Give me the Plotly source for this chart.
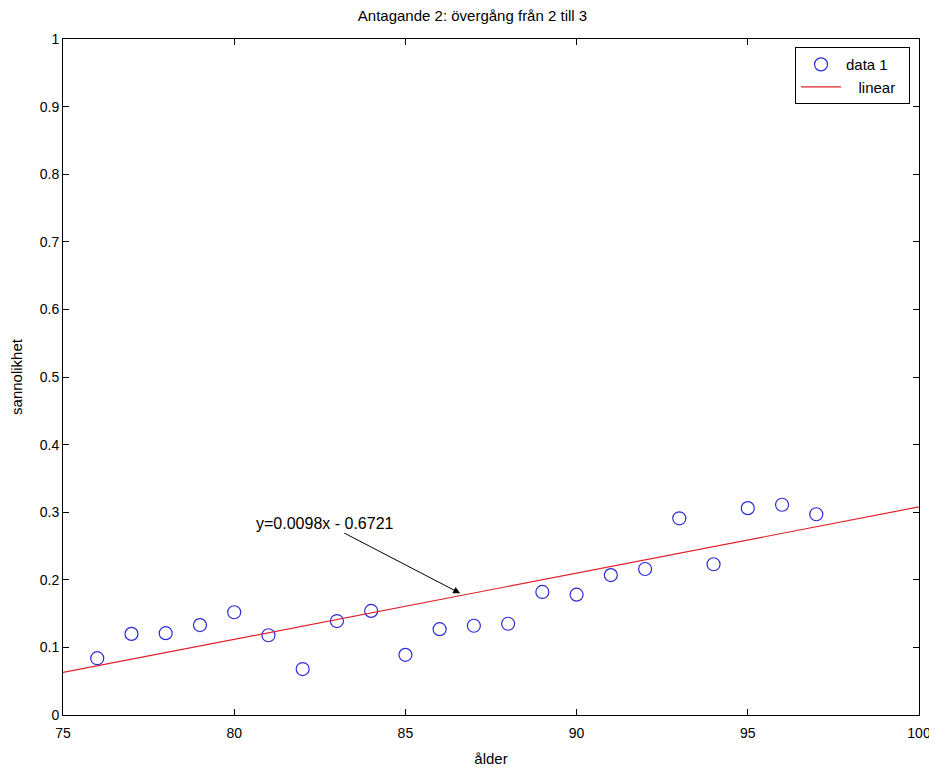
import plotly.graph_objects as go

ages = [76, 77, 78, 79, 80, 81, 82, 83, 84, 85, 86, 87, 88, 89, 90, 91, 92, 93, 94, 95, 96, 97]
prob = [0.084, 0.120, 0.121, 0.133, 0.152, 0.118, 0.068, 0.139, 0.154, 0.089, 0.127, 0.132,
        0.135, 0.182, 0.178, 0.207, 0.216, 0.291, 0.223, 0.306, 0.311, 0.297]
slope = 0.0098
intercept = -0.6721
fit_x = [75, 100]
fit_y = [slope * v + intercept for v in fit_x]

x_ticks = [75, 80, 85, 90, 95, 100]
y_ticks = [0, 0.1, 0.2, 0.3, 0.4, 0.5, 0.6, 0.7, 0.8, 0.9, 1]

font = "Liberation Sans, Arial, sans-serif"

fig = go.Figure()
fig.add_trace(go.Scatter(x=ages, y=prob, mode="markers", name="data 1",
                         marker=dict(symbol="circle-open", size=13, color="#2b2bd6",
                                     line=dict(width=1.2, color="#2b2bd6"))))
fig.add_trace(go.Scatter(x=fit_x, y=fit_y, mode="lines",
                         name="\u00a0\u00a0\u00a0linear\u00a0\u00a0",
                         line=dict(color="#e0202a", width=1.2)))

fig.add_annotation(x=86.6, y=0.180, ax=82.65, ay=0.284, axref="x", ayref="y",
                   xref="x", yref="y", text="y=0.0098x - 0.6721",
                   showarrow=True, arrowhead=2, arrowsize=1.4, arrowwidth=1,
                   arrowcolor="black", font=dict(family=font, size=16, color="black"))

axis_common = dict(showline=True, linecolor="black", linewidth=1, mirror="ticks",
                   ticks="inside", ticklen=6, tickcolor="black", showgrid=False,
                   zeroline=False, automargin=False,
                   tickfont=dict(family=font, size=14, color="black"))

fig.update_xaxes(range=[75, 100], tickvals=x_ticks, ticklabelstandoff=5,
                 title=dict(text="ålder", standoff=13,
                            font=dict(family=font, size=15, color="black")), **axis_common)
fig.update_yaxes(range=[0, 1], tickvals=y_ticks,
                 title=dict(text="sannolikhet", standoff=14,
                            font=dict(family=font, size=15, color="black")), **axis_common)

fig.update_layout(
    width=929, height=761,
    margin=dict(l=55, r=18, t=31, b=54, autoexpand=False),
    paper_bgcolor="white", plot_bgcolor="white",
    title=dict(text="Antagande 2: övergång från 2 till 3", x=0.5, xanchor="center",
               y=1, yanchor="top", pad=dict(t=2),
               font=dict(family=font, size=15, color="black")),
    showlegend=True,
    legend=dict(x=0.9895, y=0.988, xanchor="right", yanchor="top",
                bordercolor="black", borderwidth=1, bgcolor="white",
                itemwidth=40,
                font=dict(family=font, size=15, color="black")),
)

fig.write_html("out.html")
